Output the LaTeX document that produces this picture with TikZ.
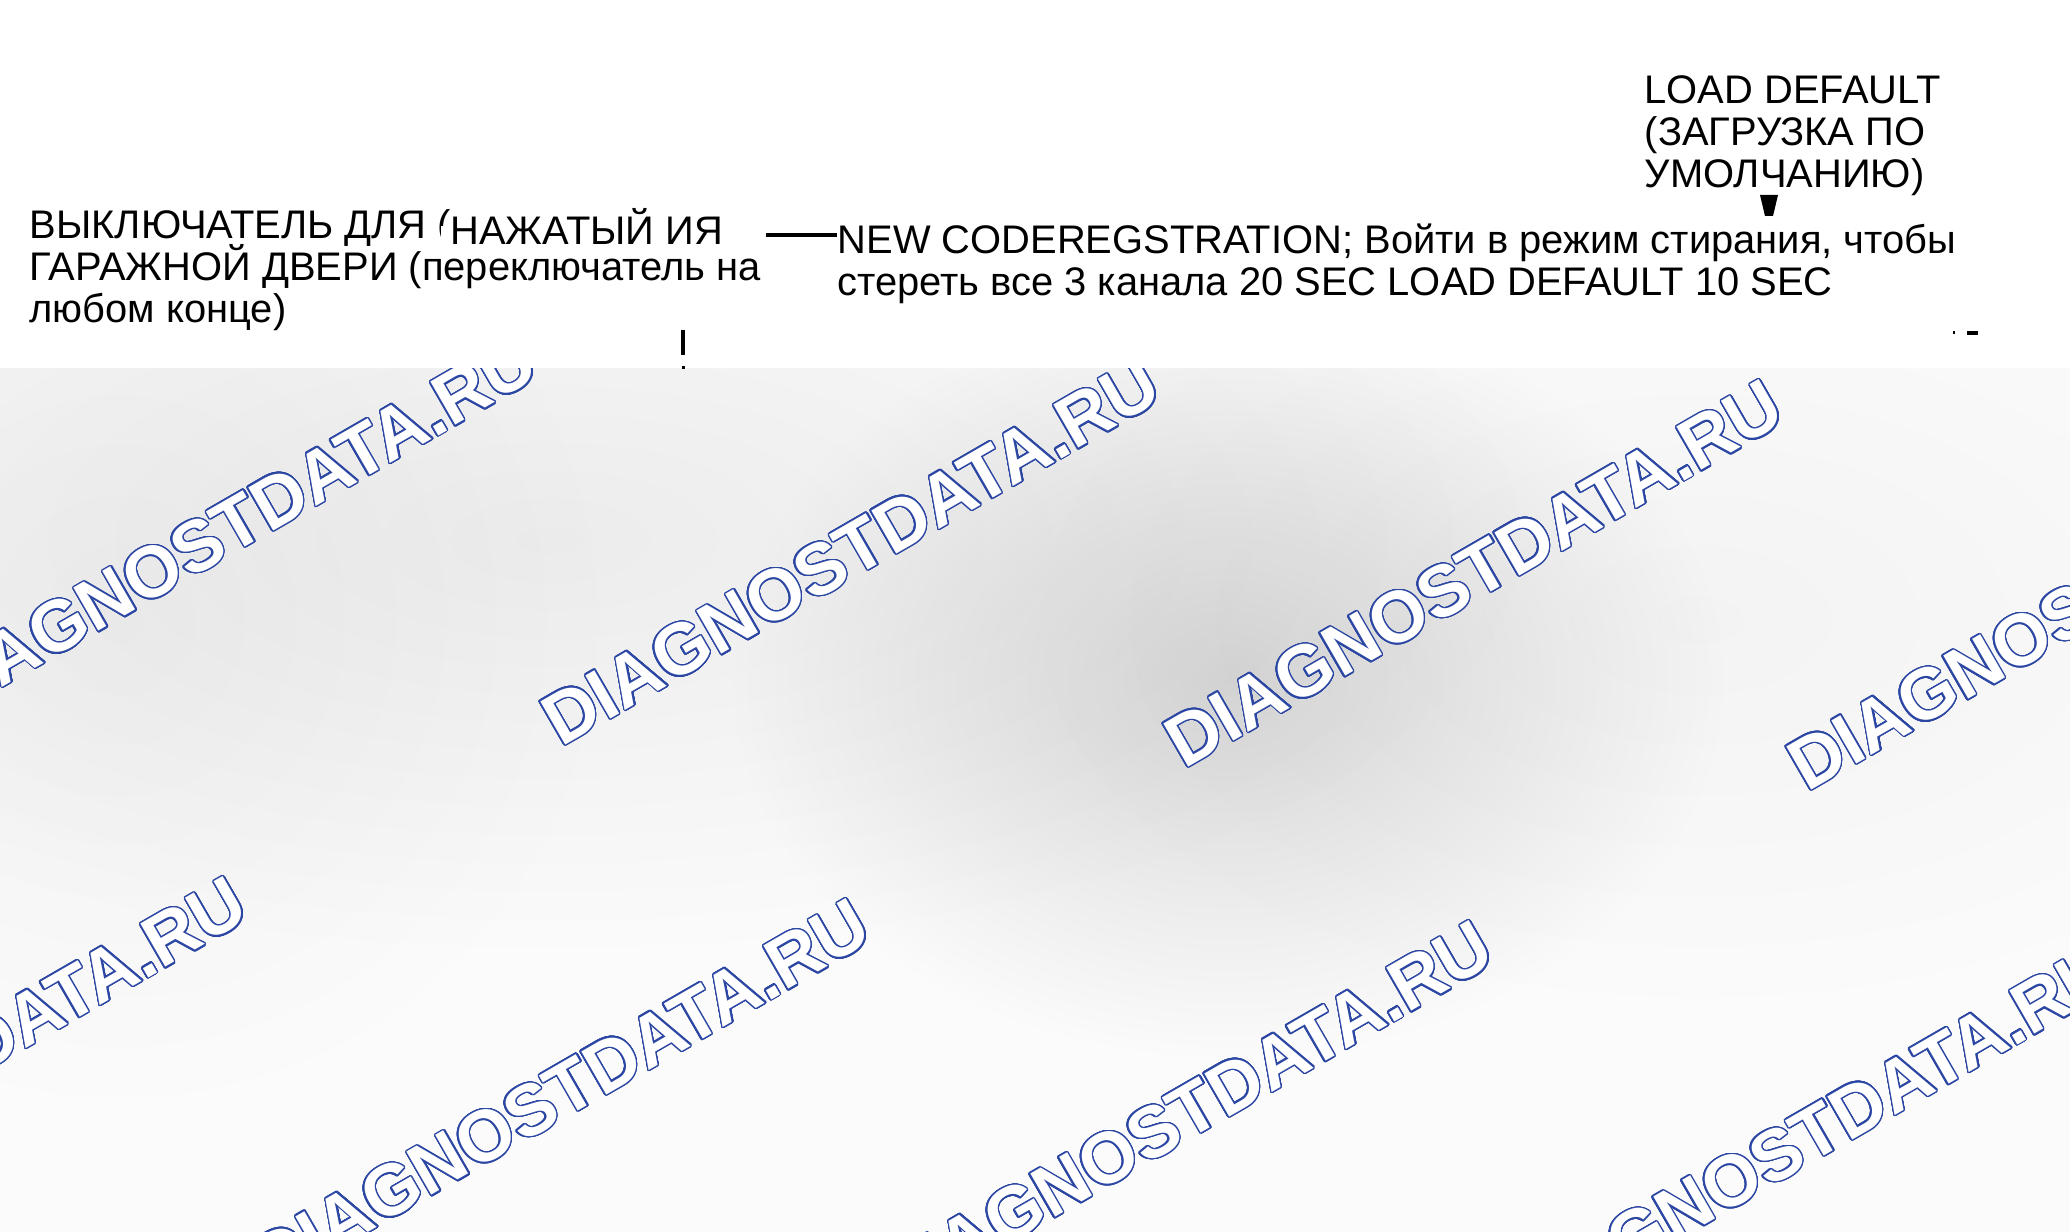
\documentclass[tikz,border=0pt]{standalone}
\usepackage{fontspec}
\setmainfont{Liberation Sans}
\usepackage{contour}
\usetikzlibrary{positioning,fadings}

\definecolor{markblue}{HTML}{2B46A3}
\contourlength{0.4pt}
\contournumber{32}

\newcommand\notefont{\fontsize{11.35}{12}\selectfont\setlength{\lineskiplimit}{-20pt}}

\tikzfading[name=haze, inner color=transparent!0, outer color=transparent!100]

\tikzset{
  note/.style={inner sep=0pt, align=left, font=\notefont},
  stamp/.style={rotate=30, inner sep=0pt, font=\fontsize{20.6}{21}\selectfont\bfseries},
  blob/.style={fill=black, path fading=haze},
}

\begin{document}
\begin{tikzpicture}[x=0.1mm, y=-0.1mm]
  \useasboundingbox (0,0) rectangle (2070,1232);
  \clip (0,0) rectangle (2070,1232);

  % grey backdrop with soft blotches
  \fill[gray!3] (0,368) rectangle (2070,1232);
  \fill[blob, opacity=0.06] (550,540) ellipse (1000 and 420);
  \fill[blob, opacity=0.04] (120,620) ellipse (500 and 500);
  \fill[blob, opacity=0.03] (1700,620) ellipse (700 and 400);
  \fill[blob, opacity=0.14] (1228,680) ellipse (500 and 380);

  % watermarks
  \foreach \wx/\wy [count=\wi] in {228/529, 851/552, 1474/574, 2097/597,
      -62/1071, 561/1093, 1184/1115, 1807/1138}
    \node[stamp] (wm\wi) at (\wx,\wy) {\contour{markblue}{\textcolor{white}{DIAGNOSTDATA.RU}}};

  % white band with the labels
  \fill[white] (0,0) rectangle (2070,368);

  \node[note, anchor=north west] (switch) at (29,209)
    {ВЫКЛЮЧАТЕЛЬ ДЛЯ (\\ГАРАЖНОЙ ДВЕРИ (переключатель на\\любом конце)};
  \node[note, anchor=base west, fill=white, text height=5.5pt, text depth=1pt, inner xsep=2.8pt] (pressed) at (440,245) {НАЖАТЫЙ ИЯ};
  \node[note, anchor=north west] (newcode) at (837,223)
    {NEW CODEREGSTRATION; Войти в режим стирания, чтобы\\стереть все 3 канала 20 SEC LOAD DEFAULT 10 SEC};
  \node[note, anchor=north west] (default) at (1644,75)
    {LOAD DEFAULT\\(ЗАГРУЗКА ПО\\УМОЛЧАНИЮ)};

  % leader and arrow head
  \coordinate (lead) at (766,235);
  \draw[line width=1pt] (lead) -- (lead -| newcode.west);
  \coordinate (tip) at (1769,216);
  \fill (tip) ++(-4,0) -- ++(8,0) -- ++(5,-21) -- ++(-18,0) -- cycle;

  % cut-off stubs
  \fill (681,330) rectangle (685,355);
  \fill (682,366) rectangle (685,369);
  \fill (1953,331) rectangle (1954.5,334);
  \fill (1967,331) rectangle (1978,335);
\end{tikzpicture}
\end{document}
